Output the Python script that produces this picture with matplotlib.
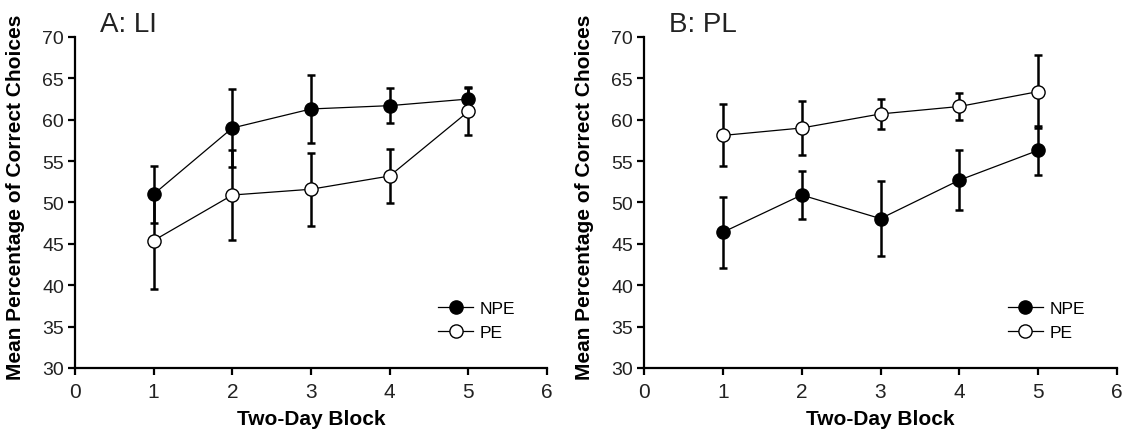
import matplotlib
matplotlib.use("Agg")
import matplotlib.pyplot as plt

plt.rcParams['font.family'] = ['Liberation Sans', 'DejaVu Sans']

blocks = [1, 2, 3, 4, 5]

# Panel A: LI
li_npe = [51.0, 59.0, 61.3, 61.7, 62.5]
li_npe_err = [3.45, 4.7, 4.1, 2.15, 1.4]
li_pe = [45.4, 50.9, 51.6, 53.2, 61.0]
li_pe_err = [5.9, 5.45, 4.4, 3.3, 2.8]

# Panel B: PL
pl_npe = [46.4, 50.9, 48.05, 52.7, 56.3]
pl_npe_err = [4.3, 2.9, 4.55, 3.6, 2.95]
pl_pe = [58.1, 59.0, 60.7, 61.6, 63.4]
pl_pe_err = [3.75, 3.3, 1.8, 1.6, 4.4]

titles = ["A: LI", "B: PL"]
xticks = [0, 1, 2, 3, 4, 5, 6]
yticks = [30, 35, 40, 45, 50, 55, 60, 65, 70]

fig = plt.figure(figsize=(11.33, 4.31), dpi=100)
axA = fig.add_axes([0.0662, 0.1439, 0.4166, 0.768])
axB = fig.add_axes([0.5684, 0.1439, 0.4175, 0.768])

panels = [
    (axA, li_npe, li_npe_err, li_pe, li_pe_err, titles[0]),
    (axB, pl_npe, pl_npe_err, pl_pe, pl_pe_err, titles[1]),
]

for ax, npe, npe_err, pe, pe_err, title in panels:
    for vals, errs, face, lab, z in [(npe, npe_err, 'black', 'NPE', 3),
                                      (pe, pe_err, 'white', 'PE', 4)]:
        ax.errorbar(blocks, vals, yerr=errs, fmt='none', ecolor='black',
                    elinewidth=1.8, capsize=2.6, capthick=1.8, zorder=2)
        ax.plot(blocks, vals, color='black', linewidth=0.9, marker='o',
                markersize=9.5, markerfacecolor=face, markeredgecolor='black',
                markeredgewidth=1.0, label=lab, zorder=z)
    ax.set_xlim(0, 6)
    ax.set_ylim(30, 70)
    ax.set_xticks(xticks)
    ax.set_yticks(yticks)
    for s in ['top', 'right']:
        ax.spines[s].set_visible(False)
    for s in ['left', 'bottom']:
        ax.spines[s].set_linewidth(1.6)
    ax.tick_params(axis='both', direction='out', length=5, width=1.6,
                   labelsize=14, colors='black', labelcolor='#222222')
    ax.tick_params(axis='y', pad=3)
    ax.tick_params(axis='x', pad=5, labelsize=15)
    ax.set_xlabel("Two-Day Block", fontsize=15, fontweight='bold', labelpad=6)
    ax.set_ylabel("Mean Percentage of Correct Choices", fontsize=15,
                  fontweight='bold')
    ax.yaxis.set_label_coords(-0.105, 0.52)
    ax.text(0.052, 1.0, title, transform=ax.transAxes, fontsize=20,
            ha='left', va='bottom', color='#222222')
    ax.legend(loc='upper left', bbox_to_anchor=(0.755, 0.225), frameon=False,
              borderaxespad=0, handlelength=2.0, handletextpad=0.4,
              labelspacing=0.55, fontsize=12.5)

fig.savefig("out.png", dpi=100)
